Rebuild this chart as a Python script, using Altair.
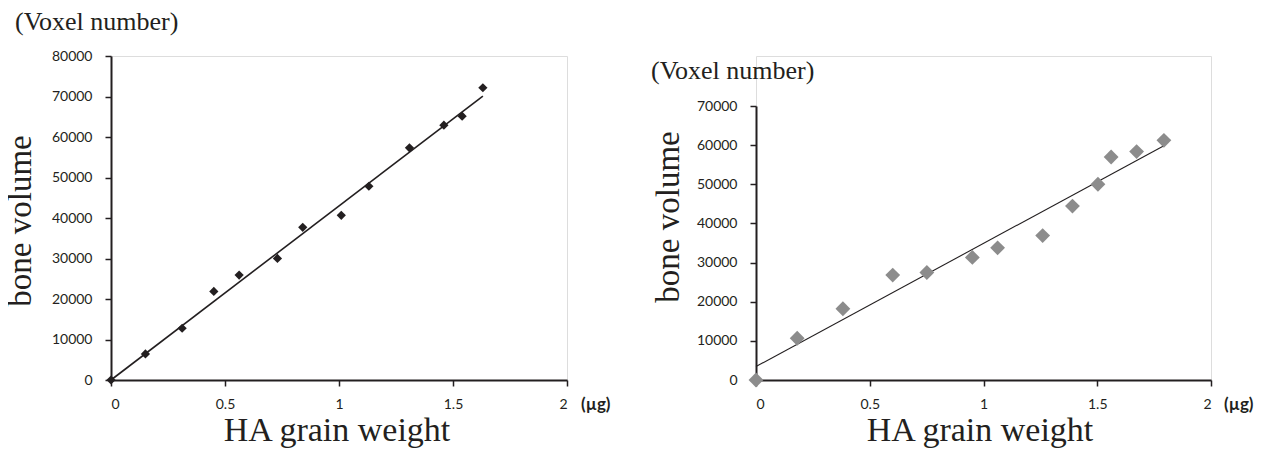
import altair as alt
import pandas as pd

# ---- data ----
left_x = [0, 0.151, 0.312, 0.451, 0.562, 0.730, 0.841, 1.010, 1.131, 1.309, 1.460, 1.540, 1.631]
left_y = [0, 6430, 12780, 21860, 25900, 30020, 37690, 40660, 47840, 57320, 62930, 65150, 72160]
left_fit_x = [0, 1.631]
left_fit_y = [0, 70100]

right_x = [0, 0.181, 0.382, 0.601, 0.751, 0.951, 1.062, 1.260, 1.391, 1.503, 1.561, 1.673, 1.793]
right_y = [0, 10660, 18200, 26800, 27460, 31310, 33770, 36890, 44430, 50000, 56970, 58360, 61230]
right_fit_x = [0, 1.793]
right_fit_y = [3440, 59840]

x_ticks = [0, 0.5, 1, 1.5, 2]
left_y_ticks = [0, 10000, 20000, 30000, 40000, 50000, 60000, 70000, 80000]
right_y_ticks = [0, 10000, 20000, 30000, 40000, 50000, 60000, 70000]

y_unit = "(Voxel number)"
y_title = "bone volume"
x_title = "HA grain weight"
x_unit = "(µg)"

INK = "#231f20"
SERIF = "Liberation Serif"
SANS = "Lato"


def x_axis():
    return alt.Axis(values=x_ticks, format="~g", title=None, grid=False,
                    domainColor=INK, domainWidth=2, tickColor=INK, tickWidth=1.5,
                    tickSize=6, labelFont=SANS, labelFontSize=14, labelColor=INK,
                    labelPadding=11)


def y_axis(vals):
    return alt.Axis(values=vals, format="d", title=None, grid=False,
                    domainColor=INK, domainWidth=2, tickColor=INK, tickWidth=1.5,
                    tickSize=6, labelFont=SANS, labelFontSize=14, labelColor=INK,
                    labelPadding=13)


def texts(unit_pos, ytitle_pos, xtitle_pos, xunit_pos):
    one = pd.DataFrame({"k": [0]})
    base = alt.Chart(one)
    t1 = base.mark_text(text=y_unit, font=SERIF, fontSize=26, align="left",
                        baseline="alphabetic", color=INK).encode(
        x=alt.value(unit_pos[0]), y=alt.value(unit_pos[1]))
    t2 = base.mark_text(text=y_title, font=SERIF, fontSize=33, align="center",
                        baseline="middle", angle=270, color=INK).encode(
        x=alt.value(ytitle_pos[0]), y=alt.value(ytitle_pos[1]))
    t3 = base.mark_text(text=x_title, font=SERIF, fontSize=34, align="center",
                        baseline="alphabetic", color=INK).encode(
        x=alt.value(xtitle_pos[0]), y=alt.value(xtitle_pos[1]))
    t4 = base.mark_text(text=x_unit, font=SANS, fontSize=17, fontWeight="bold",
                        align="left", baseline="alphabetic", color=INK).encode(
        x=alt.value(xunit_pos[0]), y=alt.value(xunit_pos[1]))
    return [t1, t2, t3, t4]


# ---- left panel ----
left_df = pd.DataFrame({"w": left_x, "v": left_y})
left_fit = pd.DataFrame({"w": left_fit_x, "v": left_fit_y})
lx = alt.X("w:Q", scale=alt.Scale(domain=[0, 2], nice=False, zero=True), axis=x_axis())
ly = alt.Y("v:Q", scale=alt.Scale(domain=[0, 80000], nice=False), axis=y_axis(left_y_ticks))

left_line = alt.Chart(left_fit).mark_line(color=INK, strokeWidth=1.6).encode(x=lx, y=ly)
left_pts = alt.Chart(left_df).mark_point(shape="diamond", filled=True, size=85,
                                          color=INK, opacity=1).encode(x=lx, y=ly)
left = alt.layer(left_line, left_pts,
                 *texts((-96, -26), (-90, 165), (226, 385), (470, 354))
                 ).properties(width=456, height=324)

# ---- right panel ----
right_df = pd.DataFrame({"w": right_x, "v": right_y})
right_fit = pd.DataFrame({"w": right_fit_x, "v": right_fit_y})
rx = alt.X("w:Q", scale=alt.Scale(domain=[0, 2], nice=False, zero=True), axis=x_axis())
ry = alt.Y("v:Q", scale=alt.Scale(domain=[0, 70000], nice=False, range=[324, 50]),
           axis=y_axis(right_y_ticks))

right_line = alt.Chart(right_fit).mark_line(color=INK, strokeWidth=1.1).encode(x=rx, y=ry)
right_pts = alt.Chart(right_df).mark_point(shape="diamond", filled=True, size=220,
                                            color="#8c8c8c", opacity=1).encode(x=rx, y=ry)
right = alt.layer(right_line, right_pts,
                  *texts((-105, 23), (-87, 161), (224, 385), (468, 354))
                  ).properties(width=455, height=324)

chart = alt.hconcat(left, right, spacing=38).properties(
    padding={"left": -4, "top": 0, "right": 0, "bottom": 0}
).configure_view(stroke=None).configure(background="white")

chart.save("out.html", embed_options={"renderer": "svg", "actions": False})
